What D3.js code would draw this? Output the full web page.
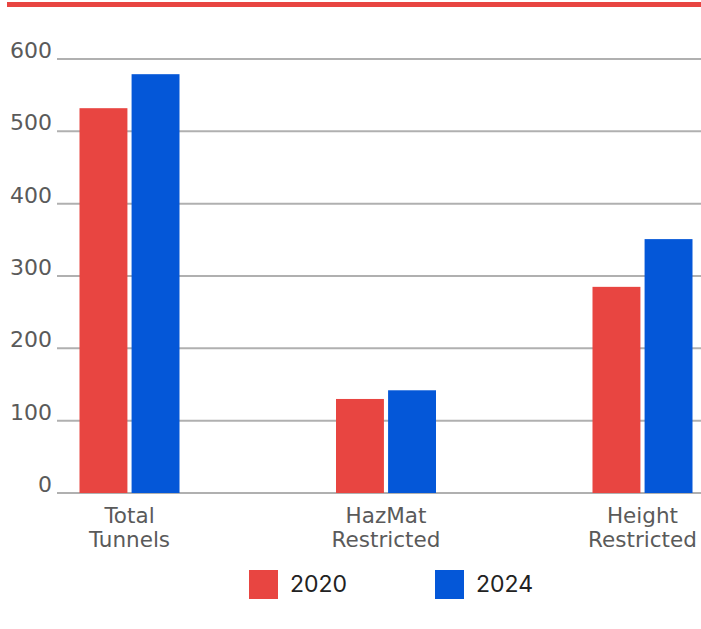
<!DOCTYPE html>
<html>
<head>
<meta charset="utf-8">
<script src="https://cdn.jsdelivr.net/npm/d3@7"></script>
<style>
  body { margin: 0; background: #fff; }
  .axis text { font-family: "DejaVu Sans", sans-serif; }
</style>
</head>
<body>
<div id="chart"></div>
<script>
const categories = [['Total', 'Tunnels'], ['HazMat', 'Restricted'], ['Height', 'Restricted']];
const seriesNames = ['2020', '2024'];
const values2020 = [532, 130, 285];
const values2024 = [579, 142, 351];
const yTicks = [0, 100, 200, 300, 400, 500, 600];
const colors = ['#e84541', '#0457d8'];

const W = 701, H = 629;
const svg = d3.select('#chart').append('svg')
  .attr('width', W)
  .attr('height', H);

// red band at top
svg.append('rect')
  .attr('x', 7).attr('y', 2)
  .attr('width', W - 7).attr('height', 5)
  .attr('fill', '#e84541');

const keys = categories.map(c => c.join(' '));

const y = d3.scaleLinear().domain([0, 600]).range([493, 59]);

const x0 = d3.scaleBand()
  .domain(keys)
  .range([1.25, 770.75]);

const x1 = d3.scaleBand()
  .domain(seriesNames)
  .range([-50, 50])
  .paddingInner(0.08);

// grid lines
svg.append('g')
  .selectAll('line')
  .data(yTicks)
  .join('line')
  .attr('x1', 57).attr('x2', W)
  .attr('y1', d => y(d)).attr('y2', d => y(d))
  .attr('stroke', '#b0b0b0')
  .attr('stroke-width', 2);

// y labels
svg.append('g')
  .attr('class', 'axis')
  .selectAll('text')
  .data(yTicks)
  .join('text')
  .attr('x', 52)
  .attr('y', d => y(d) - 1)
  .attr('text-anchor', 'end')
  .attr('font-size', 22)
  .attr('fill', '#5a5a5a')
  .text(d => d);

// bars
const rows = keys.map((k, i) => ({ key: k, vals: [values2020[i], values2024[i]] }));
const groups = svg.append('g')
  .selectAll('g')
  .data(rows)
  .join('g')
  .attr('transform', d => `translate(${x0(d.key) + x0.bandwidth() / 2},0)`);

groups.selectAll('rect')
  .data(d => d.vals.map((v, j) => ({ s: seriesNames[j], v, j })))
  .join('rect')
  .attr('x', d => x1(d.s))
  .attr('y', d => y(d.v))
  .attr('width', x1.bandwidth())
  .attr('height', d => y(0) - y(d.v))
  .attr('fill', d => colors[d.j]);

// x labels
const xl = svg.append('g')
  .attr('class', 'axis')
  .selectAll('text')
  .data(categories)
  .join('text')
  .attr('x', (d, i) => x0(keys[i]) + x0.bandwidth() / 2)
  .attr('y', 523)
  .attr('text-anchor', 'middle')
  .attr('font-size', 21.5)
  .attr('fill', '#5a5a5a');
xl.selectAll('tspan')
  .data((d, i) => d.map(t => ({ t, i })))
  .join('tspan')
  .attr('x', d => x0(keys[d.i]) + x0.bandwidth() / 2)
  .attr('dy', (d, j) => j === 0 ? 0 : 24)
  .text(d => d.t);

// legend
const legend = svg.append('g')
  .selectAll('g')
  .data(seriesNames)
  .join('g')
  .attr('transform', (d, i) => `translate(${249 + i * 186},570)`);
legend.append('rect')
  .attr('width', 29).attr('height', 29)
  .attr('fill', (d, i) => colors[i]);
legend.append('text')
  .attr('x', 41).attr('y', 22)
  .attr('font-family', 'Inter, sans-serif')
  .attr('font-size', 23)
  .attr('fill', '#222')
  .text(d => d);
</script>
</body>
</html>
